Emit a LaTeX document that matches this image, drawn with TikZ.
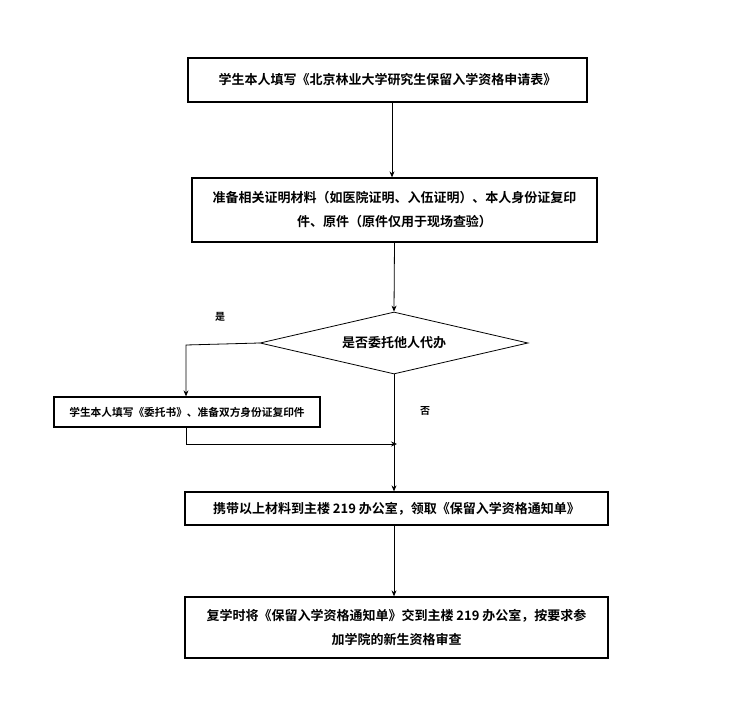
\documentclass[tikz,border=0pt]{standalone}
\usepackage{fontspec}
\newfontfamily\cjk{Noto Sans CJK SC}[BoldFont={Noto Sans CJK SC Bold}]
\usetikzlibrary{shapes.geometric,arrows.meta}
\begin{document}
\begin{tikzpicture}[x=1pt,y=-1pt,
 box/.style={draw,line width=1.3pt,inner sep=0pt,align=center,font=\cjk\bfseries\fontsize{13}{24}\selectfont},
 arr/.style={-{Stealth[length=6pt,width=5pt]},line width=0.8pt},
 lab/.style={font=\cjk\bfseries\fontsize{10}{11}\selectfont}]
\useasboundingbox (0,0) rectangle (729,709);
\node[box,minimum width=399pt,minimum height=44pt] (b1) at (387.5,80) {学生本人填写《北京林业大学研究生保留入学资格申请表》};
\node[box,minimum width=405pt,minimum height=64pt] (b2) at (394.5,210) {准备相关证明材料（如医院证明、入伍证明）、本人身份证复印\\件、原件（原件仅用于现场查验）};
\node[draw,line width=0.8pt,diamond,aspect=4.3,minimum width=268pt,minimum height=62pt,inner sep=0pt,font=\cjk\bfseries\fontsize{13}{14}\selectfont] (d) at (394,343) {是否委托他人代办};
\node[box,font=\cjk\bfseries\fontsize{10.7}{12}\selectfont,minimum width=266pt,minimum height=30pt] (b3) at (187,412) {学生本人填写《委托书》、准备双方身份证复印件};
\node[box,minimum width=423pt,minimum height=33pt] (b4) at (396.5,508.5) {携带以上材料到主楼 219 办公室，领取《保留入学资格通知单》};
\node[box,minimum width=423pt,minimum height=61pt] (b5) at (396.5,627.5) {复学时将《保留入学资格通知单》交到主楼 219 办公室，按要求参\\加学院的新生资格审查};
\node[lab] (y) at (220,317) {是};
\node[lab] (n) at (425,411) {否};
\coordinate (c1) at (186,345);
\coordinate (c2) at (186,444);
\coordinate (c3) at (397,444);
\draw[arr] (b1.south -| 392,0) -- (b2.north -| 392,0);
\draw[arr] (b2.south) -- (d.north);
\draw[arr] (d.west) -- (c1) -- (b3.north -| c1);
\draw[arr] (b3.south -| c2) -- (c2) -- (c3);
\draw[arr] (d.south) -- (b4.north -| d.south);
\draw[arr] (b4.south -| d.south) -- (b5.north -| d.south);
\end{tikzpicture}
\end{document}
